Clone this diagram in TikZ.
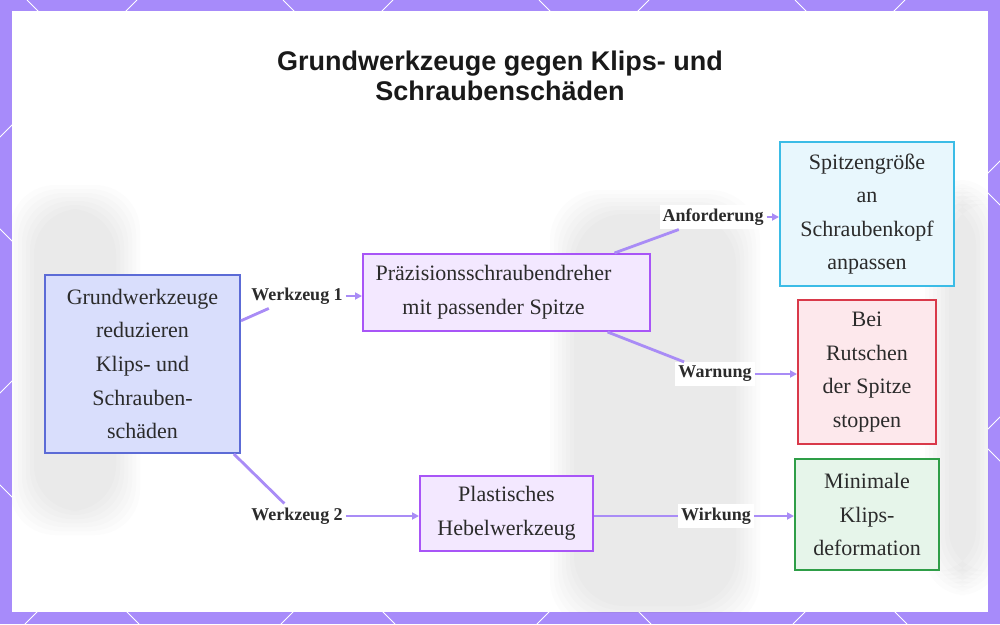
\documentclass[tikz,border=0pt]{standalone}
\usepackage{fontspec}
\setmainfont{Liberation Serif}
\newfontfamily\titlefont{Liberation Sans}
\usepackage{xcolor}
\usetikzlibrary{arrows.meta,positioning}
\definecolor{framelila}{HTML}{A78BFA}
\definecolor{linklila}{HTML}{A98CF6}
\definecolor{grundfill}{HTML}{D9DEFC}
\definecolor{grunddraw}{HTML}{5C6BD6}
\definecolor{toolfill}{HTML}{F3E8FF}
\definecolor{tooldraw}{HTML}{A855F7}
\definecolor{cyanfill}{HTML}{E8F7FD}
\definecolor{cyandraw}{HTML}{3BBCE6}
\definecolor{redfill}{HTML}{FDE8EC}
\definecolor{reddraw}{HTML}{D9394A}
\definecolor{greenfill}{HTML}{E6F5EA}
\definecolor{greendraw}{HTML}{2E9E47}
\definecolor{textgrau}{HTML}{2B2B2B}

\begin{document}
\begin{tikzpicture}[x=1pt, y=-1pt,
  box/.style={draw, line width=2pt, align=center, inner sep=0pt, text=textgrau,
    font=\fontsize{22}{33.6}\selectfont},
  tag/.style={fill=white, inner xsep=3pt, inner ysep=4pt, text=textgrau,
    font=\fontsize{18}{20}\selectfont\bfseries},
  conn/.style={draw=linklila, line width=2.8pt},
  arr/.style={conn, -{Triangle[length=7pt,width=7pt]}},
  haze/.style={fill=gray, fill opacity=0.018}]
\useasboundingbox (0,0) rectangle (1000,624);

% Step 1: Frame with the diagonal lattice
\fill[framelila] (0,0) rectangle (1000,624);
\begin{scope}
\clip (0,0) rectangle (1000,624);
\foreach \c in {-741,-485,...,1051} {
    \draw[white, line width=0.8pt] (\c,0) -- ++(624,624);
}
\foreach \c in {137,393,...,1673} {
    \draw[white, line width=0.8pt] (\c,0) -- ++(-624,624);
}
\end{scope}
\fill[white] (12,11) rectangle (988,612);

% Faded shapes of the photo behind (soft edges by stacking)
\begin{scope}
\clip (12,11) rectangle (988,612);
\foreach \s in {0,4,...,24} {
    \fill[haze, rounded corners=50pt] (550+\s,190+\s) rectangle (760-\s,630-\s);
    \fill[haze, rounded corners=45pt] (10+\s,185+\s) rectangle (140-\s,535-\s);
    \fill[haze, rounded corners=40pt] (925+\s,180+\s) rectangle (1000-\s,595-\s);
}
\end{scope}

% Heading
\node[font=\titlefont\bfseries\fontsize{27}{30}\selectfont, align=center, text=black!90]
  (title) at (500,76) {Grundwerkzeuge gegen Klips- und\\Schraubenschäden};

% Step 2: Boxes
\node[box, fill=grundfill, draw=grunddraw, minimum width=195pt, minimum height=178pt]
  (grund) at (142.5,364) {Grundwerkzeuge\\reduzieren\\Klips- und\\Schrauben-\\schäden};
\node[box, fill=toolfill, draw=tooldraw, minimum width=287pt, minimum height=77pt]
  (praez) at (506.5,292.5) {Präzisionsschraubendreher\hspace*{26pt}\\mit passender Spitze\hspace*{26pt}};
\node[box, fill=toolfill, draw=tooldraw, minimum width=173pt, minimum height=75pt]
  (hebel) at (506.5,513.5) {Plastisches\\Hebelwerkzeug};
\node[box, fill=cyanfill, draw=cyandraw, minimum width=174pt, minimum height=144pt]
  (spitze) at (867,214) {Spitzengröße\\an\\Schraubenkopf\\anpassen};
\node[box, fill=redfill, draw=reddraw, minimum width=138pt, minimum height=144pt]
  (rutsch) at (867,372) {Bei\\Rutschen\\der Spitze\\stoppen};
\node[box, fill=greenfill, draw=greendraw, minimum width=144pt, minimum height=111pt]
  (klips) at (867,514.5) {Minimale\\Klips-\\deformation};

% Step 3: Edge labels
\node[tag] (wz1) at (297,296) {Werkzeug 1};
\node[tag] (wz2) at (297,516) {Werkzeug 2};
\node[tag] (anf) at (713,217) {Anforderung};
\node[tag] (warn) at (715,374) {Warnung};
\node[tag] (wirk) at (716,516) {Wirkung};

% Step 4: Connectors
\draw[conn] (grund) -- (wz1);
\draw[arr] (wz1.east) -- (wz1.east -| praez.west);
\draw[conn] (grund) -- (wz2);
\draw[arr] (wz2.east) -- (wz2.east -| hebel.west);
\draw[conn] (praez) -- (anf);
\draw[arr] (anf.east) -- (anf.east -| spitze.west);
\draw[conn] (praez) -- (warn);
\draw[arr] (warn.east) -- (warn.east -| rutsch.west);
\draw[conn] (hebel.east |- wirk.west) -- (wirk.west);
\draw[arr] (wirk.east) -- (wirk.east -| klips.west);
\end{tikzpicture}
\end{document}
